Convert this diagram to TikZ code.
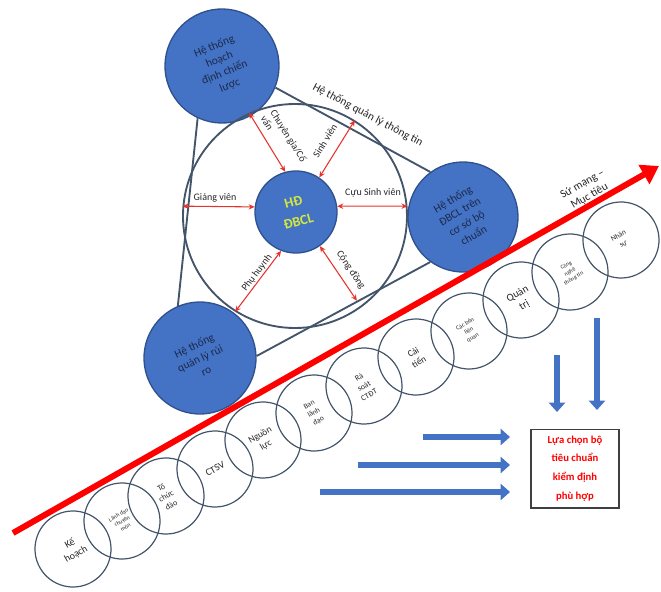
\documentclass[tikz,border=0pt]{standalone}
\usepackage{fontspec}
\setmainfont{Carlito}
\usetikzlibrary{arrows.meta}
\definecolor{cblue}{HTML}{4472C4}
\definecolor{cbluedark}{HTML}{2F528F}
\definecolor{cline}{HTML}{44546A}
\definecolor{ctext}{HTML}{1B2A4A}
\definecolor{cyell}{HTML}{D4E83C}
\definecolor{cred}{HTML}{FF0000}
\definecolor{carr}{HTML}{E5322D}
\definecolor{cbox}{HTML}{3F3F3F}
\newcommand{\fsz}[2]{\fontsize{#1pt}{#2pt}\selectfont}
\begin{document}
\begin{tikzpicture}[x=0.75pt,y=-0.75pt,
 bigc/.style={circle,fill=cblue,draw=cbluedark,line width=1pt,inner sep=0pt,text=ctext,align=center,font=\fsz{8.5}{10.5}},
 tri/.style={draw=cline,line width=1.4pt},
 dbl/.style={draw=carr,line width=0.8pt,{Stealth[length=4.5pt,width=4pt]}-{Stealth[length=4.5pt,width=4pt]}},
 lab/.style={font=\fsz{7.5}{8.5},text=black!85,inner sep=1pt},
 chain/.style={circle,draw=cline,line width=0.9pt,minimum size=57pt,inner sep=0pt,align=center,rotate=30,text=black!85},
 blk/.style={draw=cblue,line width=4.5pt,-{Triangle[length=7pt,width=12pt]}},
]
\useasboundingbox (0,0) rectangle (661,592);
% big blue circles (anchor angles below are relative to each node's rotation)
\node[bigc,minimum size=85.5pt,rotate=22] (plan) at (222,66) {Hệ thống\\hoạch\\định chiến\\lược};
\node[bigc,minimum size=82.5pt,rotate=30] (std) at (463,217) {Hệ thống\\ĐBCL trên\\cơ sở bộ\\chuẩn};
\node[bigc,minimum size=84pt,rotate=25] (risk) at (200,358) {Hệ thống\\quản lý rủi\\ro};
% triangle lines
\draw[tri] (plan.223) -- (risk.88);
\draw[tri] (plan.-44) -- (std.96);
\draw[tri] (risk.-23) -- (std.204);
\node[lab,font=\fsz{8.5}{10},rotate=-28] (info) at (368,115) {Hệ thống quản lý thông tin};
% white circle
\node[circle,draw=cline,line width=1.4pt,minimum size=168pt,inner sep=0pt] (wc) at (295,216) {};
% center (rotated 15, anchors compensated)
\node[circle,fill=cblue,draw=cbluedark,line width=1pt,minimum size=61.5pt,inner sep=0pt,align=center,text=cyell,font=\bfseries\fsz{10.5}{15},rotate=15] (hd) at (296,212) {HĐ\\ĐBCL};
% red double arrows
\draw[dbl] (hd.90) -- (wc.114);
\node[lab,align=left,rotate=-58] (lcg) at (284,139) {Chuyên gia/Cố\\vấn};
\draw[dbl] (hd.41) -- (wc.58);
\node[lab,rotate=58] (lsv) at (325,141) {Sinh viên};
\draw[dbl] (hd.158) -- (wc.175);
\node[lab] (lgv) at (215,198) {Giảng viên};
\draw[dbl] (hd.-7) -- (wc.5);
\node[lab] (lcsv) at (373,193) {Cựu Sinh viên};
\draw[dbl] (hd.-126) -- (wc.-122);
\node[lab,rotate=53] (lph) at (257,273) {Phụ huynh};
\draw[dbl,shorten >=6pt] (hd.-70) -- (wc.-54);
\node[lab,rotate=-56] (lcd) at (351,270) {Cộng đồng};
% chain of circles
\node[chain,font=\fsz{7.5}{9}] (c1) at (73,549) {Kế\\hoạch};
\node[chain,font=\fsz{4.3}{5.2}] (c2) at (122,521) {Lãnh đạo\\chuyên\\môn};
\node[chain,font=\fsz{6}{7.5}] (c3) at (166,496) {Tổ\\chức\\đào};
\node[chain,font=\fsz{7.5}{9}] (c4) at (215,469) {CTSV};
\node[chain,font=\fsz{7}{8.5}] (c5) at (263,440) {Nguồn\\lực};
\node[chain,font=\fsz{5.5}{7}] (c6) at (314,413) {Ban\\lãnh\\đạo};
\node[chain,font=\fsz{6}{7.5}] (c7) at (364,386) {Rà\\soát\\CTĐT};
\node[chain,font=\fsz{7}{8.5}] (c8) at (416,357) {Cải\\tiến};
\node[chain,font=\fsz{4.6}{5.8}] (c9) at (469,331) {Các bên\\liên\\quan};
\node[chain,font=\fsz{8}{10}] (c10) at (521,300) {Quản\\trị};
\node[chain,font=\fsz{4.3}{5.6}] (c11) at (570,272) {Công\\nghệ\\thông tin};
\node[chain,font=\fsz{5.5}{7}] (c12) at (621,240) {Nhân\\sự};
% red arrow
\coordinate (rs) at (13,533);
\coordinate (re) at (659,166);
\draw[cred,line width=4.5pt,-{Triangle[length=13pt,width=16pt]}] (rs) -- (re);
\node[lab,font=\fsz{8.5}{10.5},rotate=30,align=center] (mission) at (586,190) {Sứ mạng –\\Mục tiêu};
% box
\node[draw=cbox,line width=1pt,minimum width=66pt,minimum height=59pt,inner sep=1pt,align=center,text=cred,font=\bfseries\fsz{8}{14}] (box) at (575,468.5) {Lựa chọn bộ\\tiêu chuẩn\\kiểm định\\phù hợp};
% blue arrows
\coordinate (v1s) at (557,355); \coordinate (v1e) at (557,412);
\coordinate (v2s) at (597,318); \coordinate (v2e) at (597,410);
\coordinate (h1s) at (423,437); \coordinate (h1e) at (510,437);
\coordinate (h2s) at (358,465); \coordinate (h2e) at (510,465);
\coordinate (h3s) at (320,492); \coordinate (h3e) at (510,492);
\draw[blk] (v1s) -- (v1e);
\draw[blk] (v2s) -- (v2e);
\draw[blk] (h1s) -- (h1e);
\draw[blk] (h2s) -- (h2e);
\draw[blk] (h3s) -- (h3e);
\end{tikzpicture}
\end{document}
